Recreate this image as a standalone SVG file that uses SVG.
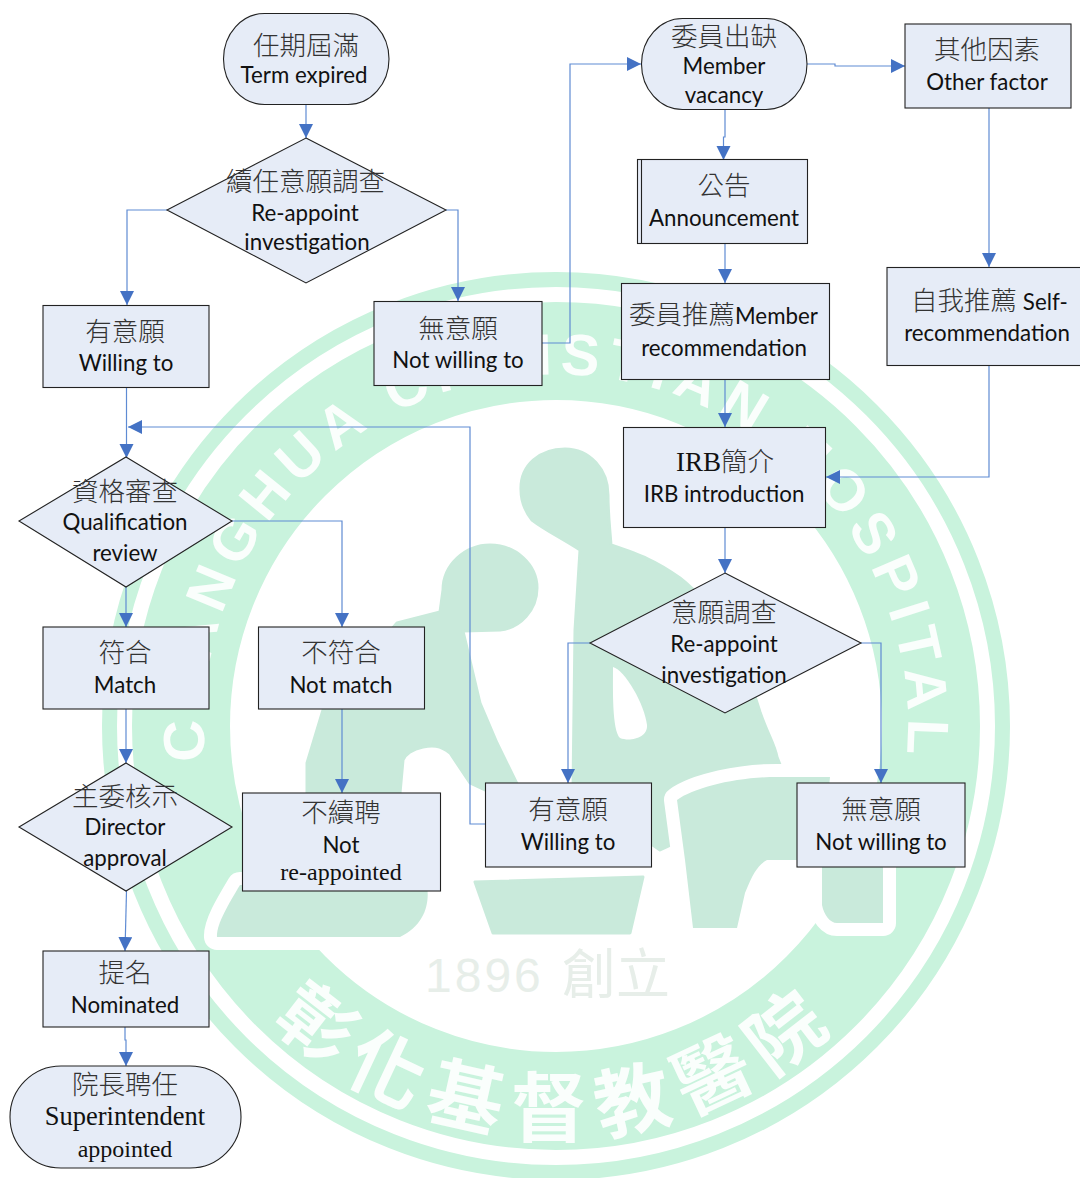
<svg xmlns="http://www.w3.org/2000/svg" width="1080" height="1178" viewBox="0 0 1080 1178">
<style>
.n{fill:#e6ecf7;stroke:#222;stroke-width:1.1}
.c{font-family:"Noto Sans CJK TC","Noto Sans CJK SC",sans-serif;font-size:26.500px;fill:#333;text-anchor:middle;font-weight:300}
.l{font-family:Lato,"Open Sans",sans-serif;font-size:22.300px;fill:#111;text-anchor:middle;transform:translateY(1px)}
.t{font-family:Lato,sans-serif;font-size:22.300px;fill:#111;font-weight:400}
.s{font-family:"Liberation Serif",serif;fill:#111;text-anchor:middle}
.e{fill:none;stroke:#5f8bd3;stroke-width:1.2}
.f{fill:#c9eadb;stroke:#c9eadb;stroke-width:3;stroke-linejoin:round}
.h{fill:#c9eadb;stroke:#fff;stroke-width:26;paint-order:stroke;stroke-linejoin:round}
</style>
<defs>
<marker id="a" markerUnits="userSpaceOnUse" markerWidth="15" markerHeight="15" refX="14" refY="7" orient="auto"><path d="M0 0L14 7L0 14Z" fill="#4472c4"/></marker>
<path id="topArc" d="M251 902A352 352 0 1 1 861 902"/>
<path id="botArc" d="M201 931A410 410 0 0 0 911 931"/>
</defs>
<rect width="1080" height="1178" fill="#fff"/>
<g id="watermark">
<circle cx="556" cy="726" r="446.500" fill="none" stroke="#c9f3dd" stroke-width="15"/>
<circle cx="556" cy="726" r="375" fill="none" stroke="#c9f3dd" stroke-width="98"/>
<text font-family="'Liberation Sans',sans-serif" font-weight="700" font-size="58" fill="#fff" fill-opacity=".9" text-anchor="middle" letter-spacing="7.500"><textPath href="#topArc" startOffset="50%">CHANGHUA CHRISTIAN HOSPITAL</textPath></text>
<text font-family="'Noto Sans CJK TC',sans-serif" font-weight="700" font-size="76" fill="#fff" fill-opacity=".9" text-anchor="middle" letter-spacing="14"><textPath href="#botArc" startOffset="50%">彰化基督教醫院</textPath></text>
<text x="425" y="992" font-family="'Liberation Sans',sans-serif" font-size="48" fill="#e7eee9" letter-spacing="3">1896</text>
<text x="562" y="994" font-family="'Noto Sans CJK TC',sans-serif" font-size="54" fill="#e7eee9">創立</text>
<path class="h" d="M240 885L427 885C430 905 424 925 400 937L217 937C216 925 228 905 240 885Z"/>
<path class="f" d="M565 449C590 449 608 470 608 495C608 515 610 530 611 545C640 555 655 560 680 578C715 605 745 660 760 712C768 735 775 745 777 757L790 790L660 850L573 790L575 630L580 550C565 540 545 530 532 520C524 510 521 500 521 490C520 465 540 449 565 449Z"/>
<path fill="#fff" d="M613 667C625 670 645 705 647 725C648 738 630 742 620 738C612 730 613 690 613 667Z"/>
<path class="f" d="M490 545C516 545 537 565 537 588C537 610 520 628 500 630L463 631L480 703L497 743L520 790H485L470 783L450 753C440 745 432 745 423 747C412 749 405 755 403 760L400 793H307V763L323 710L397 623L440 612L443 590C443 565 465 545 490 545Z"/>
<path class="h" d="M677 800C695 787 740 776 783 777H830L822 860V905C824 915 830 923 837 923H883V860H797L767 860C758 865 753 873 745 893L737 928H693L685 860Z"/>
<path class="f" d="M475 882L643 877L630 933L493 933Z"/>
</g>
<g id="connectors">
<path class="e" marker-end="url(#a)" d="M306 104V138"/>
<path class="e" marker-end="url(#a)" d="M167 210H127V305"/>
<path class="e" marker-end="url(#a)" d="M446 210H458V301"/>
<path class="e" marker-end="url(#a)" d="M542 343H570V64H641"/>
<path class="e" marker-end="url(#a)" d="M807 64H835V66H905"/>
<path class="e" marker-end="url(#a)" d="M989 108V267"/>
<path class="e" marker-end="url(#a)" d="M989 365V477H826"/>
<path class="e" marker-end="url(#a)" d="M725 109V137H723.500V160"/>
<path class="e" marker-end="url(#a)" d="M725 243V283"/>
<path class="e" marker-end="url(#a)" d="M725 379V427"/>
<path class="e" marker-end="url(#a)" d="M725 527V573"/>
<path class="e" marker-end="url(#a)" d="M590 643H568V783"/>
<path class="e" marker-end="url(#a)" d="M861 643H881V783"/>
<path class="e" marker-end="url(#a)" d="M485 824H470V427H128"/>
<path class="e" marker-end="url(#a)" d="M126.500 387V458"/>
<path class="e" marker-end="url(#a)" d="M126 587V627"/>
<path class="e" marker-end="url(#a)" d="M232 521H342V627"/>
<path class="e" marker-end="url(#a)" d="M126 709V763"/>
<path class="e" marker-end="url(#a)" d="M342 709V793"/>
<path class="e" marker-end="url(#a)" d="M126.500 891L125 951"/>
<path class="e" marker-end="url(#a)" d="M125 1026V1040H126V1066"/>
</g>
<g id="n-term-expired"><rect class="n" x="223.500" y="13.500" width="165.500" height="91" rx="41" ry="45.500"/><text class="c" x="306" y="55">任期屆滿</text><text class="l" x="304" y="82">Term expired</text></g>
<g id="n-reappoint1"><path class="n" d="M306 138L446 210L306 283L167 210Z"/><text class="c" x="305.500" y="191">續任意願調查</text><text class="l" x="305" y="220">Re-appoint</text><text class="l" x="307" y="249">investigation</text></g>
<g id="n-willing1"><rect class="n" x="43" y="305.500" width="166" height="82"/><text class="c" x="125" y="341">有意願</text><text class="l" x="126" y="370">Willing to</text></g>
<g id="n-notwilling1"><rect class="n" x="374" y="301.500" width="168" height="84"/><text class="c" x="458" y="338">無意願</text><text class="l" x="458" y="367">Not willing to</text></g>
<g id="n-vacancy"><rect class="n" x="641.500" y="18.500" width="165.500" height="91" rx="41" ry="45.500"/><text class="c" x="724" y="46">委員出缺</text><text class="l" x="724" y="73">Member</text><text class="l" x="724" y="102">vacancy</text></g>
<g id="n-other"><rect class="n" x="905" y="24" width="166" height="84"/><text class="c" x="987" y="59">其他因素</text><text class="l" x="987" y="89">Other factor</text></g>
<g id="n-announce"><rect class="n" x="637.500" y="159.500" width="170" height="84"/><path class="n" fill="none" d="M641.500 159.500V243.500"/><text class="c" x="724" y="195">公告</text><text class="l" x="724" y="225">Announcement</text></g>
<g id="n-recommend"><rect class="n" x="621.500" y="283.500" width="208" height="96"/><text class="c" x="629" y="324" style="text-anchor:start">委員推薦<tspan class="t">Member</tspan></text><text class="l" x="724" y="355">recommendation</text></g>
<g id="n-self"><rect class="n" x="887" y="267.500" width="200" height="98"/><text class="c" x="911" y="310" style="text-anchor:start">自我推薦 <tspan class="t">Self-</tspan></text><text class="l" x="987" y="340">recommendation</text></g>
<g id="n-irb"><rect class="n" x="623.500" y="427.500" width="202" height="100"/><text class="c" x="676" y="471" style="text-anchor:start"><tspan style="font-family:'Liberation Serif',serif;font-size:27px;fill:#111;font-weight:400">IRB</tspan>簡介</text><text class="l" x="724" y="501">IRB introduction</text></g>
<g id="n-reappoint2"><path class="n" d="M725 573L861 643L725 713L590 643Z"/><text class="c" x="724" y="622">意願調查</text><text class="l" x="724" y="651">Re-appoint</text><text class="l" x="724" y="682">investigation</text></g>
<g id="n-willing2"><rect class="n" x="485.500" y="783" width="166" height="84"/><text class="c" x="568" y="819">有意願</text><text class="l" x="568" y="849">Willing to</text></g>
<g id="n-notwilling2"><rect class="n" x="797" y="783" width="168" height="84"/><text class="c" x="881" y="819">無意願</text><text class="l" x="881" y="849">Not willing to</text></g>
<g id="n-qualification"><path class="n" d="M126 457L232 521L126 587L19 521Z"/><text class="c" x="125" y="501">資格審查</text><text class="l" x="125" y="529">Qualification</text><text class="l" x="125" y="560">review</text></g>
<g id="n-match"><rect class="n" x="43" y="627" width="166" height="82"/><text class="c" x="125" y="662">符合</text><text class="l" x="125" y="692">Match</text></g>
<g id="n-notmatch"><rect class="n" x="258.500" y="627" width="166" height="82"/><text class="c" x="341" y="662">不符合</text><text class="l" x="341" y="692">Not match</text></g>
<g id="n-director"><path class="n" d="M126 763L232 827L126 891L19 827Z"/><text class="c" x="125" y="806">主委核示</text><text class="l" x="125" y="834">Director</text><text class="l" x="125" y="865">approval</text></g>
<g id="n-notreappointed"><rect class="n" x="242.500" y="793" width="198" height="98"/><text class="c" x="341" y="822">不續聘</text><text class="l" x="341" y="852">Not</text><text class="s" x="341" y="880" font-size="24">re-appointed</text></g>
<g id="n-nominated"><rect class="n" x="43" y="951" width="166" height="76"/><text class="c" x="125" y="982">提名</text><text class="l" x="125" y="1012">Nominated</text></g>
<g id="n-superintendent"><rect class="n" x="10" y="1066" width="231" height="102" rx="51" ry="51"/><text class="c" x="125" y="1094">院長聘任</text><text class="s" x="125" y="1125" font-size="26.500">Superintendent</text><text class="s" x="125" y="1157" font-size="24">appointed</text></g>
</svg>
